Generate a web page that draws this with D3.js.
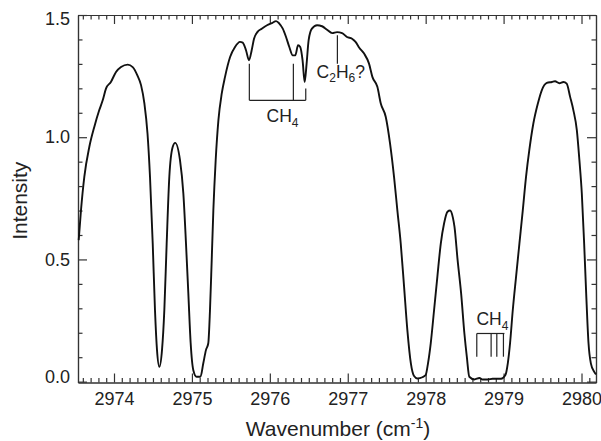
<!DOCTYPE html>
<html>
<head>
<meta charset="utf-8">
<script src="https://cdn.jsdelivr.net/npm/d3@7"></script>
<style>
  body { margin: 0; background: #fff; }
  text { font-family: "Liberation Sans", Arial, sans-serif; fill: #222; }
  .axis path, .axis line { stroke: #333; stroke-width: 1.2px; }
</style>
</head>
<body>
<div id="chart"></div>
<script>
// Spectrum
const wavenumber = [
  2973.547, 2973.576, 2973.619, 2973.683, 2973.747, 2973.81, 2973.855, 2973.897, 2973.96, 2974.026,
  2974.09, 2974.176, 2974.24, 2974.30, 2974.347, 2974.39, 2974.43, 2974.462, 2974.497, 2974.526,
  2974.552, 2974.582, 2974.616, 2974.646, 2974.676, 2974.71, 2974.753, 2974.785, 2974.847, 2974.89,
  2974.924, 2974.954, 2974.984, 2975.018, 2975.06, 2975.11, 2975.146, 2975.18, 2975.21, 2975.232,
  2975.254, 2975.275, 2975.305, 2975.34, 2975.383, 2975.425, 2975.49, 2975.553, 2975.617, 2975.652,
  2975.694, 2975.733, 2975.767, 2975.797, 2975.84, 2975.896, 2975.964, 2976.028, 2976.08, 2976.122,
  2976.166, 2976.208, 2976.25, 2976.294, 2976.327, 2976.362, 2976.39, 2976.42, 2976.447, 2976.472,
  2976.498, 2976.54, 2976.606, 2976.67, 2976.734, 2976.8, 2976.863, 2976.927, 2976.99, 2977.055,
  2977.1, 2977.15, 2977.21, 2977.273, 2977.316, 2977.38, 2977.424, 2977.488, 2977.543, 2977.594,
  2977.637, 2977.68, 2977.723, 2977.765, 2977.81, 2977.851, 2977.894, 2977.958, 2978.0, 2978.03,
  2978.065, 2978.108, 2978.15, 2978.194, 2978.236, 2978.28, 2978.313, 2978.35, 2978.37, 2978.41,
  2978.455, 2978.497, 2978.528, 2978.56, 2978.625, 2978.69, 2978.73, 2978.796, 2978.86, 2978.968,
  2979.023, 2979.054, 2979.083, 2979.118, 2979.16, 2979.203, 2979.246, 2979.288, 2979.33, 2979.382,
  2979.44, 2979.49, 2979.555, 2979.62, 2979.66, 2979.716, 2979.768, 2979.81, 2979.854, 2979.896,
  2979.94, 2979.973, 2980.004, 2980.034, 2980.06, 2980.09, 2980.12, 2980.163, 2980.186
];
const intensity = [
  0.579, 0.70, 0.838, 0.960, 1.042, 1.110, 1.151, 1.199, 1.226, 1.267,
  1.287, 1.297, 1.287, 1.253, 1.213, 1.138, 1.015, 0.838, 0.565, 0.293,
  0.129, 0.061, 0.129, 0.293, 0.565, 0.838, 0.96, 0.977, 0.906, 0.77,
  0.565, 0.361, 0.157, 0.047, 0.02, 0.02, 0.075, 0.129, 0.157, 0.293,
  0.497, 0.70, 0.906, 1.07, 1.179, 1.247, 1.328, 1.369, 1.39, 1.387,
  1.356, 1.315, 1.356, 1.403, 1.43, 1.444, 1.458, 1.467, 1.475, 1.465,
  1.444, 1.41, 1.369, 1.335, 1.335, 1.376, 1.369, 1.315, 1.226, 1.301,
  1.397, 1.444, 1.458, 1.454, 1.44, 1.426, 1.43, 1.426, 1.41, 1.403,
  1.39, 1.365, 1.342, 1.301, 1.247, 1.206, 1.138, 1.083, 0.974, 0.838,
  0.70, 0.565, 0.388, 0.211, 0.075, 0.023, 0.013, 0.018, 0.027, 0.075,
  0.157, 0.293, 0.429, 0.565, 0.647, 0.695, 0.70, 0.67, 0.633, 0.497,
  0.361, 0.197, 0.102, 0.02, 0.009, 0.015, 0.009, 0.009, 0.012, 0.012,
  0.027, 0.075, 0.157, 0.293, 0.429, 0.565, 0.70, 0.838, 0.947, 1.056,
  1.138, 1.192, 1.222, 1.226, 1.229, 1.221, 1.226, 1.219, 1.165, 1.11,
  1.029, 0.906, 0.77, 0.565, 0.361, 0.157, 0.075, 0.04, 0.03
];

const xTicks = [2974, 2975, 2976, 2977, 2978, 2979, 2980];
const yTicks = [0, 0.5, 1.0, 1.5];

// CH4 bracket near the top: line positions and where each drop starts
const ch4TopLines = [2975.737, 2976.302, 2976.461];
const ch4TopStart = [1.301, 1.301, 1.199];
const ch4TopBar = 1.151;
// C2H6? marker
const c2h6Line = 2976.867;
const c2h6Range = [1.417, 1.301];
// CH4 comb at the bottom
const ch4LowLines = [2978.656, 2978.84, 2978.913, 2978.998];
const ch4LowRange = [0.197, 0.102];

const margin = { top: 15, right: 5, bottom: 58.5, left: 78 };
const width = 601 - margin.left - margin.right;
const height = 441 - margin.top - margin.bottom;

const svg = d3.select("#chart")
    .append("svg")
    .attr("width", 601)
    .attr("height", 441)
    .append("g")
    .attr("transform", `translate(${margin.left},${margin.top})`);

const x = d3.scaleLinear().domain([2973.538, 2980.186]).range([0, width]);
const y = d3.scaleLinear().domain([-0.0035, 1.5]).range([height, 0]);

const xMinor = d3.range(29736, 29802).map(d => d / 10).filter(d => !xTicks.includes(d));
const yMinor = d3.range(1, 15).map(d => d / 10).filter(d => !yTicks.includes(d));

// Bottom axis with labels
svg.append("g")
    .attr("class", "axis")
    .attr("transform", `translate(0,${height})`)
    .call(d3.axisBottom(x).tickValues(xTicks).tickFormat(d3.format("d")).tickSize(-9).tickSizeOuter(0).tickPadding(10))
    .selectAll("text")
    .style("font-size", "18px");
svg.append("g")
    .attr("class", "axis")
    .attr("transform", `translate(0,${height})`)
    .call(d3.axisBottom(x).tickValues(xMinor).tickFormat("").tickSize(-4.5).tickSizeOuter(0));

// Top axis
svg.append("g")
    .attr("class", "axis")
    .call(d3.axisTop(x).tickValues(xTicks).tickFormat("").tickSize(-9).tickSizeOuter(0));
svg.append("g")
    .attr("class", "axis")
    .call(d3.axisTop(x).tickValues(xMinor).tickFormat("").tickSize(-4.5).tickSizeOuter(0));

// Left axis with labels
const yAxisG = svg.append("g")
    .attr("class", "axis")
    .call(d3.axisLeft(y).tickValues(yTicks).tickFormat(d3.format(".1f")).tickSize(-9).tickSizeOuter(0).tickPadding(8));
yAxisG.selectAll("text").style("font-size", "18px");
yAxisG.selectAll(".tick").filter(d => d === 0).select("text").attr("dy", "0.05em");
yAxisG.selectAll(".tick").filter(d => d === 1.5).select("text").attr("dy", "0.55em");
svg.append("g")
    .attr("class", "axis")
    .call(d3.axisLeft(y).tickValues(yMinor).tickFormat("").tickSize(-4.5).tickSizeOuter(0));

// Right axis
svg.append("g")
    .attr("class", "axis")
    .attr("transform", `translate(${width},0)`)
    .call(d3.axisRight(y).tickValues(yTicks).tickFormat("").tickSize(-9).tickSizeOuter(0));
svg.append("g")
    .attr("class", "axis")
    .attr("transform", `translate(${width},0)`)
    .call(d3.axisRight(y).tickValues(yMinor).tickFormat("").tickSize(-4.5).tickSizeOuter(0));

// Spectrum line
const points = wavenumber.map((w, i) => [w, intensity[i]]);
const line = d3.line()
    .x(d => x(d[0]))
    .y(d => y(d[1]))
    .curve(d3.curveMonotoneX);

svg.append("path")
    .datum(points)
    .attr("fill", "none")
    .attr("stroke", "#111")
    .attr("stroke-width", 1.9)
    .attr("stroke-linejoin", "round")
    .attr("d", line);

// Annotations
const ann = svg.append("g")
    .attr("stroke", "#222")
    .attr("stroke-width", 1.2)
    .attr("fill", "none");

ch4TopLines.forEach((w, i) => {
    ann.append("line")
        .attr("x1", x(w)).attr("x2", x(w))
        .attr("y1", y(ch4TopStart[i])).attr("y2", y(ch4TopBar));
});
ann.append("line")
    .attr("x1", x(ch4TopLines[0])).attr("x2", x(ch4TopLines[2]))
    .attr("y1", y(ch4TopBar)).attr("y2", y(ch4TopBar));

ann.append("line")
    .attr("x1", x(c2h6Line)).attr("x2", x(c2h6Line))
    .attr("y1", y(c2h6Range[0])).attr("y2", y(c2h6Range[1]));

ch4LowLines.forEach(w => {
    ann.append("line")
        .attr("x1", x(w)).attr("x2", x(w))
        .attr("y1", y(ch4LowRange[0])).attr("y2", y(ch4LowRange[1]));
});
ann.append("line")
    .attr("x1", x(ch4LowLines[0])).attr("x2", x(ch4LowLines[3]) + 1)
    .attr("y1", y(ch4LowRange[0])).attr("y2", y(ch4LowRange[0]));

// Chemical formula with subscripts
function formula(g, parts) {
    const t = g.append("text").style("font-size", "17.5px");
    let down = false;
    parts.forEach(p => {
        if (p.sub) {
            t.append("tspan").attr("dy", 4.5).style("font-size", "12px").text(p.sub);
            down = true;
        } else {
            t.append("tspan").attr("dy", down ? -4.5 : 0).text(p.t);
            down = false;
        }
    });
    return t;
}

formula(svg, [{ t: "CH" }, { sub: "4" }])
    .attr("x", x((ch4TopLines[0] + ch4TopLines[2]) / 2) - 11)
    .attr("y", y(ch4TopBar) + 22);

formula(svg, [{ t: "C" }, { sub: "2" }, { t: "H" }, { sub: "6" }, { t: "?" }])
    .attr("x", x(2976.6))
    .attr("y", y(1.244));

formula(svg, [{ t: "CH" }, { sub: "4" }])
    .attr("x", x(2978.652))
    .attr("y", y(0.231));

// Axis titles
const xt = svg.append("text")
    .attr("x", width / 2 + 1)
    .attr("y", height + 53)
    .attr("text-anchor", "middle")
    .style("font-size", "21px");
xt.append("tspan").text("Wavenumber (cm");
xt.append("tspan").attr("dy", -8).style("font-size", "14px").text("-1");
xt.append("tspan").attr("dy", 8).text(")");

svg.append("text")
    .attr("transform", "rotate(-90)")
    .attr("x", -(height / 2 + 2))
    .attr("y", -51)
    .attr("text-anchor", "middle")
    .style("font-size", "21px")
    .text("Intensity");
</script>
</body>
</html>
